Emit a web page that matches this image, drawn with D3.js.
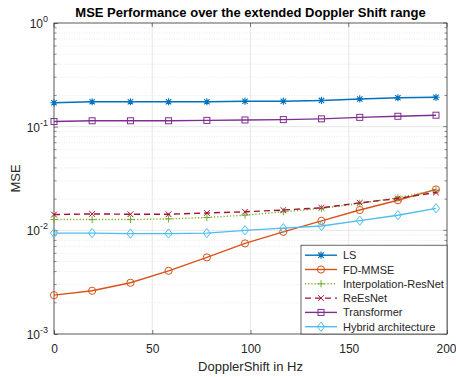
<!DOCTYPE html>
<html>
<head>
<meta charset="utf-8">
<script src="https://cdn.jsdelivr.net/npm/d3@7"></script>
<style>
  body { margin: 0; background: #fff; }
  svg { font-family: "Liberation Sans", Arial, Helvetica, sans-serif; }
</style>
</head>
<body>
<svg id="chart" width="456" height="377"></svg>
<script>
// data
const doppler = [0, 19.4, 38.9, 58.3, 77.8, 97.2, 116.7, 136.1, 155.6, 175, 194.4]
const lsVals = [0.170, 0.174, 0.174, 0.174, 0.174, 0.176, 0.176, 0.179, 0.185, 0.190, 0.192]
const fdMmseVals = [0.00237, 0.00261, 0.00312, 0.00407, 0.00548, 0.00748, 0.00968, 0.01235, 0.0157, 0.0195, 0.0248]
const interpResNetVals = [0.0127, 0.0127, 0.0127, 0.0129, 0.0133, 0.0140, 0.0151, 0.0163, 0.0182, 0.0206, 0.0244]
const reEsNetVals = [0.0142, 0.0144, 0.0143, 0.0143, 0.0147, 0.0151, 0.0157, 0.0165, 0.0184, 0.0203, 0.0232]
const transformerVals = [0.112, 0.114, 0.114, 0.114, 0.115, 0.116, 0.117, 0.119, 0.123, 0.126, 0.129]
const hybridVals = [0.0094, 0.0094, 0.0093, 0.0093, 0.0094, 0.0100, 0.0105, 0.0110, 0.0124, 0.0140, 0.0163]
const xTicks = [0, 50, 100, 150, 200]
const yExponents = [0, -1, -2, -3]

const series = [
    {name: "LS", values: lsVals, color: "#0072BD", marker: "star", dash: null},
    {name: "FD-MMSE", values: fdMmseVals, color: "#D95319", marker: "circle", dash: null},
    {name: "Interpolation-ResNet", values: interpResNetVals, color: "#77AC30", marker: "plus", dash: "1.2,2"},
    {name: "ReEsNet", values: reEsNetVals, color: "#A2142F", marker: "cross", dash: "6,4"},
    {name: "Transformer", values: transformerVals, color: "#7E2F8E", marker: "square", dash: null},
    {name: "Hybrid architecture", values: hybridVals, color: "#4DBEEE", marker: "diamond", dash: null}
]

const margin = {top: 23, right: 9, bottom: 43, left: 54}
const width = 456 - margin.left - margin.right
const height = 377 - margin.top - margin.bottom
const axisColor = "#262626"

const svg = d3.select("#chart")
const group = svg.append("g")
    .attr("transform", `translate(${margin.left}, ${margin.top})`)

// scales
const xScale = d3.scaleLinear().domain([0, 200]).range([0, width])
const yScale = d3.scaleLog().domain([1e-3, 1]).range([height, 0])

// grid
const minorTicks = []
for (let e = -3; e < 0; e++) {
    for (let k = 2; k <= 9; k++) minorTicks.push(k * Math.pow(10, e))
}
group.append("g").selectAll("line")
    .data(minorTicks)
    .enter()
    .append("line")
        .attr("x1", 0).attr("x2", width)
        .attr("y1", d => yScale(d)).attr("y2", d => yScale(d))
        .attr("stroke", "#dcdcdc")
        .attr("stroke-width", 0.6)
        .attr("stroke-dasharray", "1,1.5")

group.append("g").selectAll("line")
    .data(yExponents.map(e => Math.pow(10, e)))
    .enter()
    .append("line")
        .attr("x1", 0).attr("x2", width)
        .attr("y1", d => yScale(d)).attr("y2", d => yScale(d))
        .attr("stroke", "#dedede")
        .attr("stroke-width", 0.7)

group.append("g").selectAll("line")
    .data(xTicks)
    .enter()
    .append("line")
        .attr("x1", d => xScale(d)).attr("x2", d => xScale(d))
        .attr("y1", 0).attr("y2", height)
        .attr("stroke", "#dedede")
        .attr("stroke-width", 0.7)

// axes (MATLAB style: ticks inside, box on)
const xAxisGenerator = d3.axisBottom(xScale)
    .tickValues(xTicks)
    .tickSize(-4)
    .tickPadding(10)
    .tickFormat(d3.format("d"))

const xAxis = group.append("g")
    .attr("transform", `translate(0, ${height})`)
    .call(xAxisGenerator)
xAxis.select(".domain").remove()
xAxis.selectAll("line").attr("stroke", axisColor).attr("stroke-width", 0.6)
xAxis.selectAll("text")
    .attr("fill", axisColor)
    .attr("font-size", "12px")
    .attr("font-family", "Liberation Sans, Arial, sans-serif")
// last label sits right at the page edge, keep it inside
xAxis.selectAll("text")
    .filter(d => d === 200)
    .attr("text-anchor", "end")
    .attr("x", 9)

group.append("g").selectAll("line")
    .data(xTicks)
    .enter()
    .append("line")
        .attr("x1", d => xScale(d)).attr("x2", d => xScale(d))
        .attr("y1", 0).attr("y2", 4)
        .attr("stroke", axisColor)
        .attr("stroke-width", 0.6)

const yAxisGenerator = d3.axisLeft(yScale)
    .tickValues(yExponents.map(e => Math.pow(10, e)))
    .tickSize(-4)
    .tickFormat("")
const yAxis = group.append("g").call(yAxisGenerator)
yAxis.select(".domain").remove()
yAxis.selectAll("line").attr("stroke", axisColor).attr("stroke-width", 0.6)

// minor ticks left and right
group.append("g").selectAll("line")
    .data(minorTicks)
    .enter()
    .append("line")
        .attr("x1", 0).attr("x2", 2.5)
        .attr("y1", d => yScale(d)).attr("y2", d => yScale(d))
        .attr("stroke", axisColor).attr("stroke-width", 0.5)
group.append("g").selectAll("line")
    .data(minorTicks.concat(yExponents.map(e => Math.pow(10, e))))
    .enter()
    .append("line")
        .attr("x1", width).attr("x2", d => width - (Number.isInteger(Math.log10(d)) ? 4 : 2.5))
        .attr("y1", d => yScale(d)).attr("y2", d => yScale(d))
        .attr("stroke", axisColor).attr("stroke-width", 0.5)

// y tick labels with superscripts
const yLabels = group.append("g").selectAll("text")
    .data(yExponents)
    .enter()
    .append("text")
        .attr("x", -6)
        .attr("y", e => yScale(Math.pow(10, e)) + 5)
        .attr("text-anchor", "end")
        .attr("fill", axisColor)
        .attr("font-size", "12px")
yLabels.append("tspan").text("10")
yLabels.append("tspan")
    .attr("dy", -6)
    .attr("font-size", "9px")
    .text(e => String(e))

// box
group.append("rect")
    .attr("x", 0).attr("y", 0)
    .attr("width", width).attr("height", height)
    .attr("fill", "none")
    .attr("stroke", axisColor)
    .attr("stroke-width", 0.7)

// markers
function drawMarker(sel, type, color) {
    const r = 3.6
    if (type === "circle") {
        sel.append("circle").attr("r", r).attr("fill", "none").attr("stroke", color).attr("stroke-width", 1)
    } else if (type === "square") {
        sel.append("rect").attr("x", -3).attr("y", -3).attr("width", 6).attr("height", 6)
            .attr("fill", "none").attr("stroke", color).attr("stroke-width", 1)
    } else if (type === "diamond") {
        sel.append("path").attr("d", `M0,${-r - 1}L${r},0L0,${r + 1}L${-r},0Z`)
            .attr("fill", "none").attr("stroke", color).attr("stroke-width", 1)
    } else if (type === "plus") {
        sel.append("path").attr("d", `M${-r},0H${r}M0,${-r}V${r}`)
            .attr("stroke", color).attr("stroke-width", 1)
    } else if (type === "cross") {
        const a = r * 0.8
        sel.append("path").attr("d", `M${-a},${-a}L${a},${a}M${-a},${a}L${a},${-a}`)
            .attr("stroke", color).attr("stroke-width", 1)
    } else if (type === "star") {
        const a = r * 0.75
        sel.append("path").attr("d", `M${-r},0H${r}M0,${-r}V${r}M${-a},${-a}L${a},${a}M${-a},${a}L${a},${-a}`)
            .attr("stroke", color).attr("stroke-width", 1.1)
    }
}

const line = d3.line()
    .x((d, i) => xScale(doppler[i]))
    .y(d => yScale(d))

series.forEach(s => {
    group.append("path")
        .datum(s.values)
        .attr("d", line)
        .attr("fill", "none")
        .attr("stroke", s.color)
        .attr("stroke-width", 1.4)
        .attr("stroke-dasharray", s.dash)
    group.append("g").selectAll("g")
        .data(s.values)
        .enter()
        .append("g")
            .attr("transform", (d, i) => `translate(${xScale(doppler[i])}, ${yScale(d)})`)
            .each(function() { drawMarker(d3.select(this), s.marker, s.color) })
})

// legend
const legendW = 146, rowH = 14.3
const legendH = series.length * rowH + 3
const legend = group.append("g")
    .attr("transform", `translate(${width - legendW}, ${height - legendH})`)
legend.append("rect")
    .attr("width", legendW).attr("height", legendH)
    .attr("fill", "#fff")
    .attr("stroke", axisColor)
    .attr("stroke-width", 0.7)
series.forEach((s, i) => {
    const row = legend.append("g").attr("transform", `translate(0, ${10 + i * rowH})`)
    row.append("line")
        .attr("x1", 4).attr("x2", 36)
        .attr("stroke", s.color).attr("stroke-width", 1.4)
        .attr("stroke-dasharray", s.dash)
    const m = row.append("g").attr("transform", "translate(20, 0)")
    drawMarker(m, s.marker, s.color)
    row.append("text")
        .attr("x", 42).attr("y", 4)
        .attr("fill", axisColor)
        .attr("font-size", "11px")
        .text(s.name)
})

// title and labels
svg.append("text")
    .attr("x", margin.left + width / 2).attr("y", 17)
    .attr("text-anchor", "middle")
    .attr("font-weight", "bold")
    .attr("font-size", "13px")
    .attr("fill", "#000")
    .text("MSE Performance over the extended Doppler Shift range")

svg.append("text")
    .attr("x", margin.left + width / 2).attr("y", 371)
    .attr("text-anchor", "middle")
    .attr("font-size", "13px")
    .attr("fill", axisColor)
    .text("DopplerShift in Hz")

svg.append("text")
    .attr("transform", `translate(20, ${margin.top + height / 2}) rotate(-90)`)
    .attr("text-anchor", "middle")
    .attr("font-size", "13px")
    .attr("fill", axisColor)
    .text("MSE")
</script>
</body>
</html>
